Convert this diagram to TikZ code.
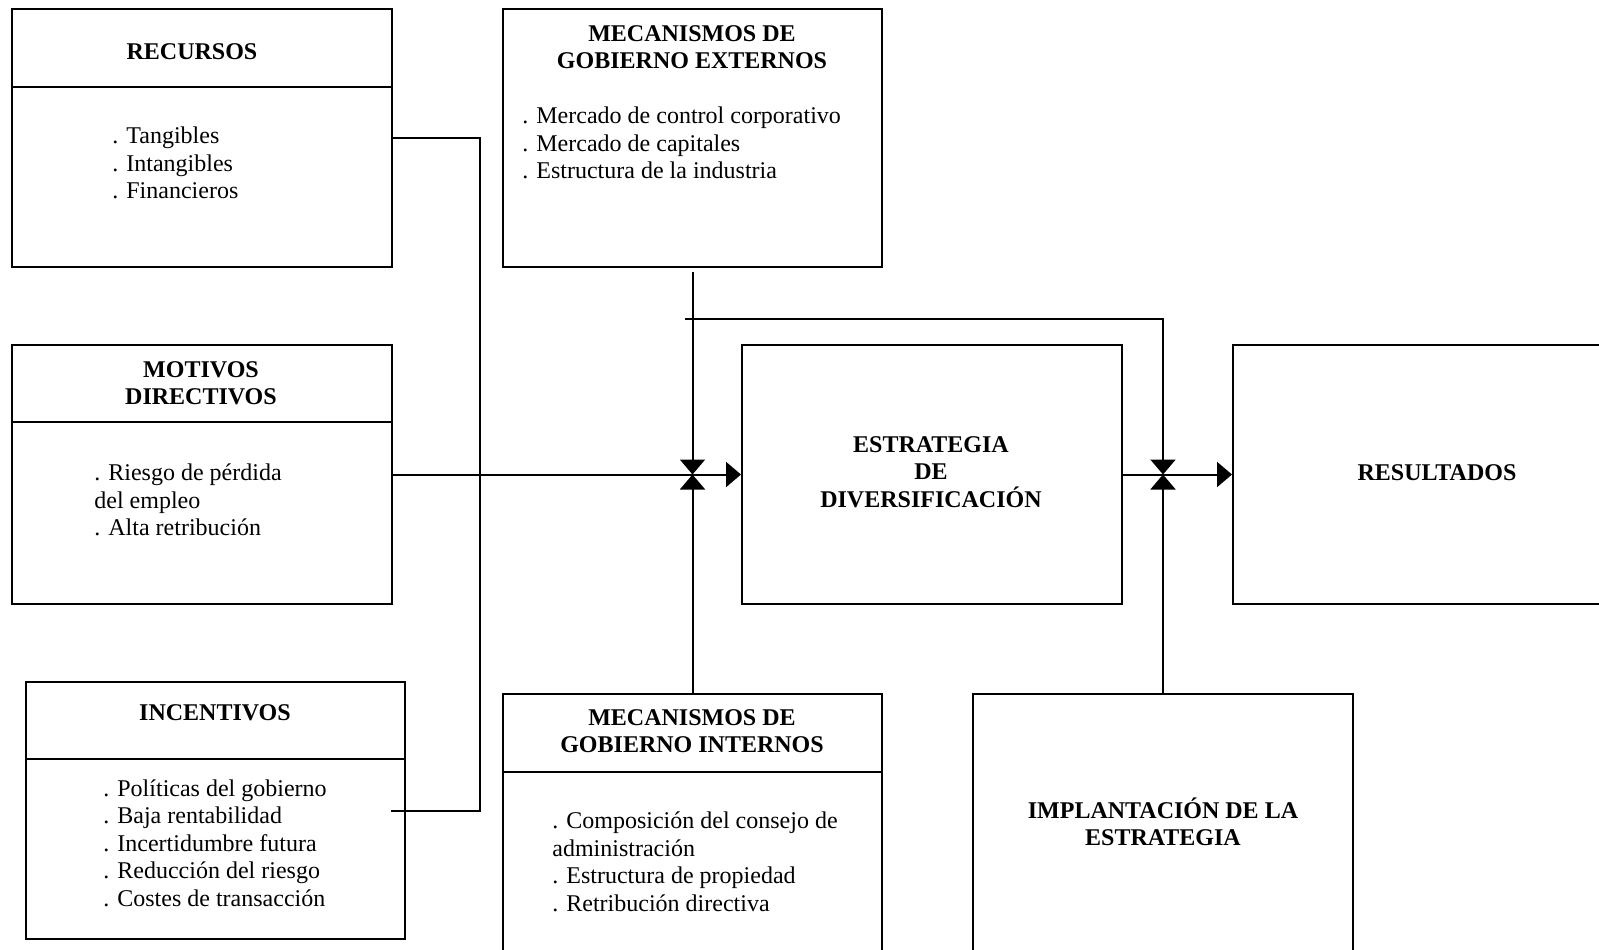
\documentclass[tikz,border=0pt]{standalone}
\usepackage{fontspec}
\setmainfont{Liberation Serif}
\usetikzlibrary{arrows.meta}
\usetikzlibrary{positioning}
\usetikzlibrary{calc}

\begin{document}
\begin{tikzpicture}
  [x=0.5pt,y=-0.5pt,
  font=\fontsize{12}{13.75}\selectfont,
  box/.style={draw=black,line width=1pt,inner sep=0pt},
  title/.style={font=\fontsize{12}{13.75}\selectfont\bfseries,align=center,inner sep=0pt},
  items/.style={align=left,anchor=west,inner sep=0pt},
  line/.style={black,line width=1pt},
  flow/.style={black,line width=1pt,-{Triangle[length=7.5pt,width=12.5pt]}}]
  \clip (0,0) rectangle (1599,949);

  \node[box,minimum width=190pt,minimum height=129pt] (rec) at (202,138) {};
  \node[box,minimum width=190pt,minimum height=129.5pt] (mot) at (202,474.5) {};
  \node[box,minimum width=189.5pt,minimum height=128.5pt] (inc) at (215.5,810.5) {};
  \node[box,minimum width=189.5pt,minimum height=129pt] (ext) at (692.5,138) {};
  \node[box,minimum width=189.5pt,minimum height=153pt] (int) at (692.5,847) {};
  \node[box,minimum width=190pt,minimum height=129.5pt] (est) at (932,474.5) {};
  \node[box,minimum width=208.5pt,minimum height=129.5pt] (res) at (1441.5,474.5) {};
  \node[box,minimum width=190pt,minimum height=153pt] (imp) at (1163,847) {};

  \draw [line] (rec.west |- 0,87) -- (rec.east |- 0,87);
  \draw [line] (mot.west |- 0,422) -- (mot.east |- 0,422);
  \draw [line] (inc.west |- 0,759) -- (inc.east |- 0,759);
  \draw [line] (int.west |- 0,772) -- (int.east |- 0,772);

  \node[title] (rectitle) at (192,52) {RECURSOS};
  \node[items] (recitems) at (112,163) {. Tangibles\\. Intangibles\\. Financieros};
  \node[title] (mottitle) at (201,383) {MOTIVOS\\DIRECTIVOS};
  \node[items] (motitems) at (94,500) {. Riesgo de pérdida\\del empleo\\. Alta retribución};
  \node[title] (inctitle) at (215,713) {INCENTIVOS};
  \node[items] (incitems) at (103,843) {. Políticas del gobierno\\. Baja rentabilidad\\. Incertidumbre futura\\. Reducción del riesgo\\. Costes de transacción};
  \node[title] (exttitle) at (692,47) {MECANISMOS DE\\GOBIERNO EXTERNOS};
  \node[items] (extitems) at (522,143) {. Mercado de control corporativo\\. Mercado de capitales\\. Estructura de la industria};
  \node[title] (inttitle) at (692,731) {MECANISMOS DE\\GOBIERNO INTERNOS};
  \node[items] (intitems) at (552,862) {. Composición del consejo de\\administración\\. Estructura de propiedad\\. Retribución directiva};
  \node[title] (esttext) at (931,472) {ESTRATEGIA\\DE\\DIVERSIFICACIÓN};
  \node[title] (restext) at (1437,473) {RESULTADOS};
  \node[title] (imptext) at (1163,822) {IMPLANTACIÓN DE LA\\ESTRATEGIA};

  \coordinate (j1) at (ext.south |- mot.east);
  \coordinate (j2) at (imp.north |- est.east);
  \coordinate (bus) at (480,811);
  \coordinate (incin) at (391,811);
  \coordinate (br) at (685,319);

  \draw [line] (rec.east) -| (bus) -- (incin);
  \draw [flow] (mot.east) -- (est.west);
  \draw [flow] ([yshift=-2pt]ext.south) -- (j1);
  \draw [flow] (int.north) -- (j1);
  \draw [flow] (br) -| (j2);
  \draw [flow] (imp.north) -- (j2);
  \draw [flow] (est.east) -- (res.west);

\end{tikzpicture}
\end{document}
